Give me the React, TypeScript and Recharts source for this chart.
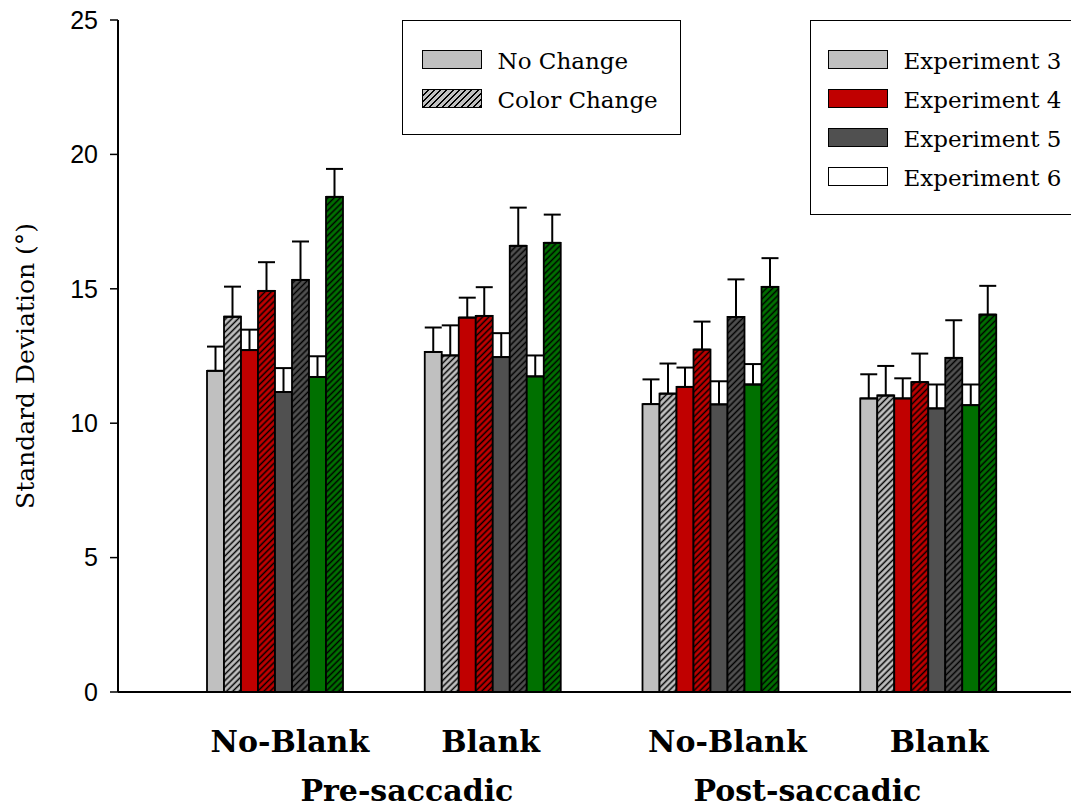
import React from "react";
import { BarChart, Bar, XAxis, YAxis, ErrorBar } from "recharts";

const conditions = ["No-Blank", "Blank", "No-Blank", "Blank"];
const phases = ["Pre-saccadic", "Post-saccadic"];
const yTicks = [0, 5, 10, 15, 20, 25];

const experiments = ["Experiment 3", "Experiment 4", "Experiment 5", "Experiment 6"];
const changeTypes = ["No Change", "Color Change"];

// means and upper SEM per condition
const exp3NoChange = [11.95, 12.65, 10.71, 10.92];
const exp3NoChangeErr = [0.9, 0.91, 0.92, 0.9];
const exp3ColorChange = [13.96, 12.52, 11.1, 11.03];
const exp3ColorChangeErr = [1.12, 1.12, 1.12, 1.1];
const exp4NoChange = [12.72, 13.93, 11.35, 10.92];
const exp4NoChangeErr = [0.76, 0.74, 0.72, 0.75];
const exp4ColorChange = [14.92, 13.99, 12.74, 11.53];
const exp4ColorChangeErr = [1.07, 1.07, 1.04, 1.06];
const exp5NoChange = [11.16, 12.46, 10.7, 10.55];
const exp5NoChangeErr = [0.89, 0.89, 0.86, 0.89];
const exp5ColorChange = [15.33, 16.6, 13.95, 12.43];
const exp5ColorChangeErr = [1.43, 1.42, 1.4, 1.4];
const exp6NoChange = [11.72, 11.74, 11.44, 10.67];
const exp6NoChangeErr = [0.77, 0.78, 0.76, 0.77];
const exp6ColorChange = [18.42, 16.71, 15.07, 14.04];
const exp6ColorChangeErr = [1.04, 1.05, 1.07, 1.07];

const colors = ["#c0c0c0", "#c00000", "#505050", "#007000"];
const legendColors = ["#c0c0c0", "#c00000", "#505050", "#ffffff"];

const series = [
  { key: "e3n", values: exp3NoChange, errors: exp3NoChangeErr, exp: 0, hatch: false },
  { key: "e3c", values: exp3ColorChange, errors: exp3ColorChangeErr, exp: 0, hatch: true },
  { key: "e4n", values: exp4NoChange, errors: exp4NoChangeErr, exp: 1, hatch: false },
  { key: "e4c", values: exp4ColorChange, errors: exp4ColorChangeErr, exp: 1, hatch: true },
  { key: "e5n", values: exp5NoChange, errors: exp5NoChangeErr, exp: 2, hatch: false },
  { key: "e5c", values: exp5ColorChange, errors: exp5ColorChangeErr, exp: 2, hatch: true },
  { key: "e6n", values: exp6NoChange, errors: exp6NoChangeErr, exp: 3, hatch: false },
  { key: "e6c", values: exp6ColorChange, errors: exp6ColorChangeErr, exp: 3, hatch: true },
];

const data = conditions.map((cond, i) => {
  const row: Record<string, any> = { cond };
  series.forEach((s) => {
    row[s.key] = s.values[i];
    row[s.key + "Err"] = [0, s.errors[i]];
  });
  return row;
});

const serif = "'DejaVu Serif', serif";
const condDx = [15, -2, 17, 11];
const phaseDx = [132, 97];

const errOf = (k: string) => (d: any) => (d && d.payload ? d.payload : d)[k];

function CondTick(props: any) {
  const { x, y, payload } = props;
  const i = payload.index;
  return (
    <g>
      <text x={x + condDx[i]} y={y + 60} textAnchor="middle" fontFamily={serif} fontWeight="bold" fontSize={30} fill="#000">
        {payload.value}
      </text>
      {i % 2 === 0 && (
        <text x={x + phaseDx[i / 2]} y={y + 109} textAnchor="middle" fontFamily={serif} fontWeight="bold" fontSize={30} fill="#000">
          {phases[i / 2]}
        </text>
      )}
    </g>
  );
}

function YLabel(props: any) {
  const vb = props.viewBox;
  const cx = 25;
  const cy = vb.y + vb.height / 2 + 10;
  return (
    <text x={cx} y={cy} transform={`rotate(-90 ${cx} ${cy})`} textAnchor="middle" dominantBaseline="central" fontFamily={serif} fontSize={25} fill="#000">
      Standard Deviation (°)
    </text>
  );
}

const hatchBg = (c: string) => `repeating-linear-gradient(135deg, ${c} 0 3px, #000 3px 4.4px)`;

function Swatch({ fill, hatch }: { fill: string; hatch?: boolean }) {
  return (
    <div
      style={{
        width: 60,
        height: 19,
        boxSizing: "border-box",
        border: "1.5px solid #000",
        background: hatch ? hatchBg(fill) : fill,
        flex: "none",
      }}
    />
  );
}

function LegendBox({ left, width, height, padLeft, items }: any) {
  return (
    <div
      style={{
        position: "absolute",
        left,
        top: 20,
        width,
        height,
        boxSizing: "border-box",
        border: "1.5px solid #000",
        background: "#fff",
        paddingTop: 18.5,
        paddingLeft: padLeft,
      }}
    >
      {items.map((it: any) => (
        <div key={it.label} style={{ height: 39, display: "flex", alignItems: "center" }}>
          <Swatch fill={it.fill} hatch={it.hatch} />
          <span style={{ marginLeft: 16, marginTop: 3, fontFamily: serif, fontSize: 23, color: "#000", whiteSpace: "nowrap" }}>{it.label}</span>
        </div>
      ))}
    </div>
  );
}

export default function App() {
  return (
    <div style={{ position: "absolute", left: 0, top: 0, width: 1071, height: 808, overflow: "hidden", background: "#fff" }}>
      <BarChart width={1071} height={808} data={data} margin={{ top: 20, right: 0, bottom: 0, left: 0 }} barGap={0} barSize={17}>
        <defs>
          {colors.map((c, i) => (
            <pattern key={i} id={`hatch${i}`} patternUnits="userSpaceOnUse" width={4.4} height={4.4} patternTransform="rotate(45)">
              <rect width={4.4} height={4.4} fill={c} />
              <line x1={2.2} y1={0} x2={2.2} y2={4.4} stroke="#000" strokeWidth={1.5} />
            </pattern>
          ))}
        </defs>
        <YAxis
          type="number"
          domain={[0, 25]}
          ticks={yTicks}
          width={118}
          tickSize={8}
          tickMargin={12}
          axisLine={{ stroke: "#000", strokeWidth: 2 }}
          tickLine={{ stroke: "#000", strokeWidth: 1.5 }}
          tick={{ fill: "#000", fontSize: 25, fontFamily: "'Liberation Sans', Arial, sans-serif" }}
          label={{ content: YLabel }}
        />
        <XAxis
          dataKey="cond"
          height={116}
          interval={0}
          padding={{ left: 48, right: 34 }}
          tickSize={0}
          tickMargin={0}
          axisLine={{ stroke: "#000", strokeWidth: 2 }}
          tickLine={false}
          tick={<CondTick />}
        />
        {series.map((s) => (
          <Bar
            key={s.key}
            dataKey={s.key}
            fill={s.hatch ? `url(#hatch${s.exp})` : colors[s.exp]}
            stroke="#000"
            strokeWidth={1.8}
            isAnimationActive={false}
          >
            <ErrorBar dataKey={errOf(s.key + "Err")} width={8.5} stroke="#000" strokeWidth={2} direction="y" />
          </Bar>
        ))}
      </BarChart>
      <LegendBox
        left={402}
        width={279}
        height={115}
        padLeft={18.5}
        items={changeTypes.map((t, i) => ({ label: t, fill: colors[0], hatch: i === 1 }))}
      />
      <LegendBox
        left={810}
        width={275}
        height={195}
        padLeft={16.5}
        items={experiments.map((e, i) => ({ label: e, fill: legendColors[i], hatch: false }))}
      />
    </div>
  );
}
